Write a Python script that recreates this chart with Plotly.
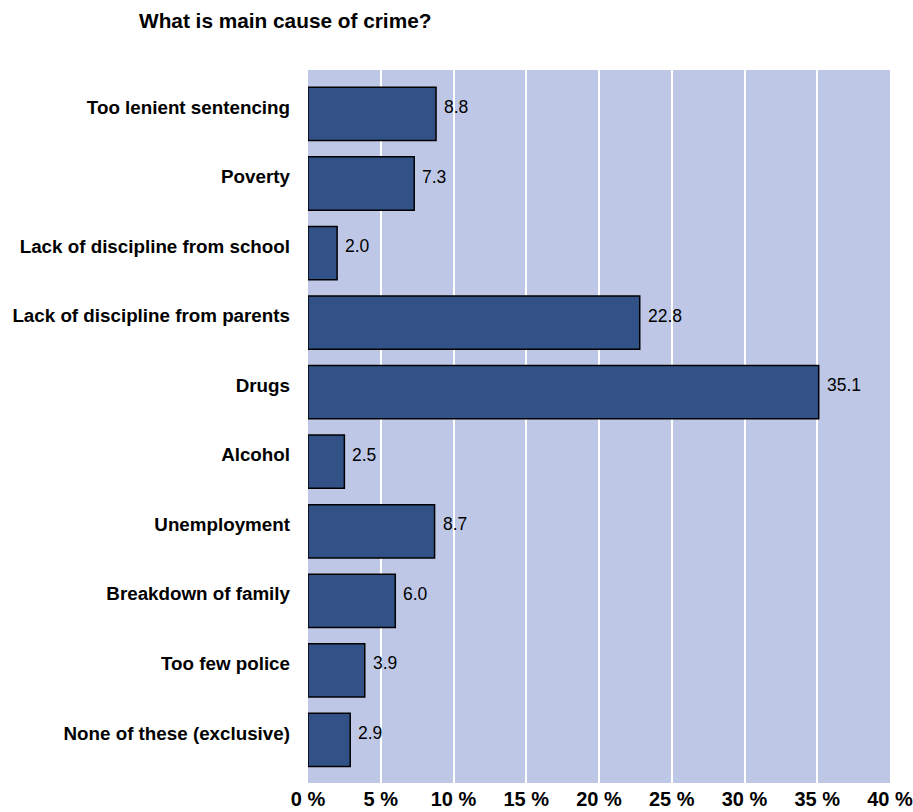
import plotly.graph_objects as go

categories = [
    "Too lenient sentencing",
    "Poverty",
    "Lack of discipline from school",
    "Lack of discipline from parents",
    "Drugs",
    "Alcohol",
    "Unemployment",
    "Breakdown of family",
    "Too few police",
    "None of these (exclusive)",
]
values = [8.8, 7.3, 2.0, 22.8, 35.1, 2.5, 8.7, 6.0, 3.9, 2.9]
tick_vals = [0, 5, 10, 15, 20, 25, 30, 35, 40]
tick_text = ["0 %", "5 %", "10 %", "15 %", "20 %", "25 %", "30 %", "35 %", "40 %"]

FONT = "Liberation Sans, Arial, sans-serif"

fig = go.Figure(
    go.Bar(
        x=values,
        y=categories,
        orientation="h",
        width=0.766,
        offset=-0.283,
        marker=dict(color="#325186", line=dict(color="#000000", width=1.5)),
        hoverinfo="x+y",
    )
)

for cat, v in zip(categories, values):
    fig.add_annotation(
        x=v,
        y=cat,
        xref="x",
        yref="y",
        text=f"{v:.1f}",
        showarrow=False,
        xanchor="left",
        yanchor="middle",
        xshift=6,
        font=dict(family=FONT, size=17.5, color="#000000"),
    )

fig.update_layout(
    width=913,
    height=812,
    margin=dict(l=308, r=23, t=70, b=29, autoexpand=False),
    paper_bgcolor="#FFFFFF",
    plot_bgcolor="#BEC8E6",
    showlegend=False,
    title=dict(
        text="<b>What is main cause of crime?</b>",
        x=139 / 913,
        xanchor="left",
        y=1 - 21 / 812,
        yanchor="middle",
        font=dict(family=FONT, size=20.8, color="#000000"),
    ),
    font=dict(family=FONT, color="#000000"),
)

fig.update_xaxes(
    range=[0, 40],
    tickvals=tick_vals,
    ticktext=[f"<b>{t}</b>" for t in tick_text],
    tickfont=dict(size=20, color="#000000"),
    showgrid=True,
    gridcolor="#FFFFFF",
    gridwidth=2,
    zeroline=False,
    showline=False,
    ticks="",
    ticklabelstandoff=2,
    ticklabeloverflow="allow",
    automargin=False,
)

fig.update_yaxes(
    categoryorder="array",
    categoryarray=categories,
    autorange=False,
    range=[9.719, -0.532],
    tickvals=categories,
    ticktext=[f"<b>{c}</b>" for c in categories],
    tickfont=dict(size=18.8, color="#000000"),
    showgrid=False,
    zeroline=False,
    showline=False,
    ticks="",
    ticklabelstandoff=17,
    automargin=False,
)

fig.write_html("out.html")
